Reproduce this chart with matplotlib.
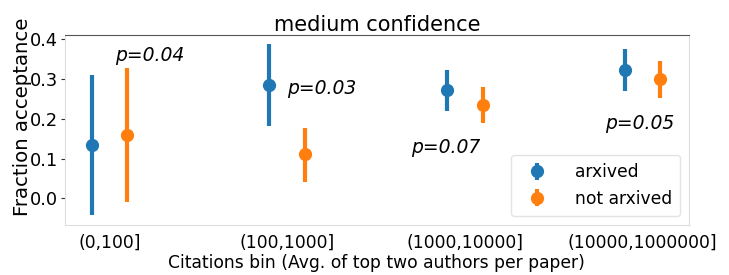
import matplotlib
matplotlib.use("Agg")
import matplotlib.pyplot as plt
import numpy as np

categories = ["(0,100]", "(100,1000]", "(1000,10000]", "(10000,1000000]"]
arxived_mean = [0.134, 0.285, 0.272, 0.324]
arxived_lo = [-0.042, 0.182, 0.220, 0.271]
arxived_hi = [0.310, 0.387, 0.324, 0.375]
notarx_mean = [0.159, 0.111, 0.235, 0.300]
notarx_lo = [-0.009, 0.042, 0.189, 0.253]
notarx_hi = [0.327, 0.178, 0.279, 0.345]
p_labels = ["p=0.04", "p=0.03", "p=0.07", "p=0.05"]
p_x = [0.03, 1.0, 1.7, 2.79]
p_y = [0.36, 0.275, 0.129, 0.189]

fig = plt.figure(figsize=(7.29, 2.75), dpi=100)
ax = fig.add_axes([0.089, 0.182, 0.856, 0.691])

x = np.arange(len(categories))
blue = "#1f77b4"
orange = "#ff7f0e"
for xs, m, lo, hi, c, lab in [(x - 0.1, arxived_mean, arxived_lo, arxived_hi, blue, "arxived"),
                               (x + 0.1, notarx_mean, notarx_lo, notarx_hi, orange, "not arxived")]:
    m = np.array(m); lo = np.array(lo); hi = np.array(hi)
    ax.errorbar(xs, m, yerr=[m - lo, hi - m], fmt="o", color=c, ms=8.5, elinewidth=3,
                capsize=0, label=lab)

for tx, ty, t in zip(p_x, p_y, p_labels):
    ax.text(tx, ty, t, fontsize=13.5, style="italic", va="center", ha="left")

ax.set_xlim(-0.25, 3.26)
ax.set_ylim(-0.067, 0.411)
ax.set_xticks(x)
ax.set_xticklabels(categories, fontsize=12.3)
ax.set_yticks([0.0, 0.1, 0.2, 0.3, 0.4])
ax.set_yticklabels(["0.0", "0.1", "0.2", "0.3", "0.4"], fontsize=12.8)
ax.tick_params(axis="x", length=0, pad=6)
ax.tick_params(axis="y", length=3, width=0.8, color="#333333", pad=2)
ax.set_xlabel("Citations bin (Avg. of top two authors per paper)", fontsize=12.3, labelpad=2)
ax.set_ylabel("Fraction acceptance", fontsize=14.2)
ax.yaxis.set_label_coords(-0.053, 0.571)
ax.set_title("medium confidence", fontsize=15, pad=3)
for s in ["left", "right", "bottom"]:
    ax.spines[s].set_color("#dddddd")
ax.spines["top"].set_color("#555555")
leg = ax.legend(loc="lower right", fontsize=12.3, handletextpad=1.2, borderpad=0.5)
leg.get_frame().set_edgecolor("#dddddd")

fig.savefig("out.png", dpi=100)
